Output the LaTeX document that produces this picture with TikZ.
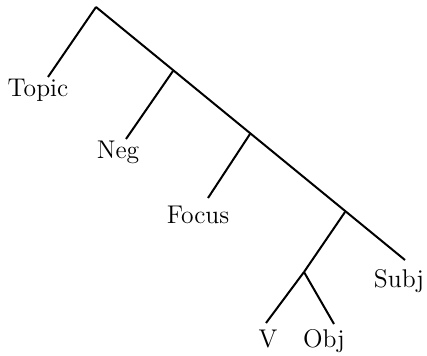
\documentclass[tikz,border=0pt]{standalone}
\usepackage{tikz}
\usetikzlibrary{positioning}

\begin{document}
\begin{tikzpicture}[
  x=0.5pt, y=-0.5pt,
  font=\fontsize{12.8}{15}\selectfont,
  leaf/.style={anchor=base, inner sep=0pt},
  branch/.style={line width=1pt}
]
\useasboundingbox (0,0) rectangle (427,355);
% branching points
\coordinate (root) at (96,7);
\coordinate (negP) at (173,71);
\coordinate (focP) at (250,134);
\coordinate (subjP) at (345,212);
\coordinate (vp) at (304,272);
% line ends above the labels
\coordinate (topicEnd) at (48,77);
\coordinate (negEnd) at (126,139);
\coordinate (focEnd) at (208,198);
\coordinate (subjEnd) at (405,260);
\coordinate (vEnd) at (266,323);
\coordinate (objEnd) at (334,324);
% labels
\node[leaf] (topic) at (38,96) {Topic};
\node[leaf] (neg) at (118,158) {Neg};
\node[leaf] (focus) at (198,223) {Focus};
\node[leaf] (subj) at (399,287) {Subj};
\node[leaf] (v) at (268,347) {V};
\node[leaf] (obj) at (324,347) {Obj};

\draw[branch] (root) -- (topicEnd);
\draw[branch] (root) -- (subjEnd);
\draw[branch] (negP) -- (negEnd);
\draw[branch] (focP) -- (focEnd);
\draw[branch] (subjP) -- (vp);
\draw[branch] (vp) -- (vEnd);
\draw[branch] (vp) -- (objEnd);
\end{tikzpicture}
\end{document}
